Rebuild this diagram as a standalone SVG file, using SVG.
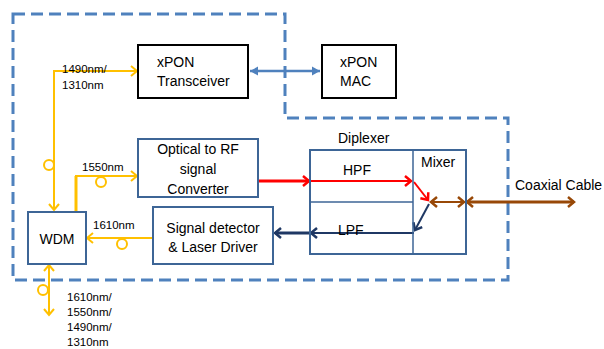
<svg xmlns="http://www.w3.org/2000/svg" width="604" height="349" viewBox="0 0 604 349">
<style>
text{font-family:"Liberation Sans",Arial,sans-serif;fill:#000}
.t{font-size:14px}
.s{font-size:11.5px}
.bx{fill:#fff;stroke:#3d6596;stroke-width:2}
.bk{fill:#fff;stroke:#000;stroke-width:2}
.y{fill:none;stroke:#ffc000;stroke-width:2}
.yc{fill:none;stroke:#ffc000;stroke-width:2}
</style>
<defs>
<marker id="ay" markerUnits="userSpaceOnUse" markerWidth="12" markerHeight="12" refX="9" refY="6" orient="auto-start-reverse"><path d="M3,1 L9,6 L3,11" fill="none" stroke="#ffc000" stroke-width="2"/></marker>
<marker id="ar" markerUnits="userSpaceOnUse" markerWidth="12" markerHeight="12" refX="9" refY="6" orient="auto"><path d="M3,1 L9,6 L3,11" fill="none" stroke="#ff0000" stroke-width="2.5"/></marker>
<marker id="an" markerUnits="userSpaceOnUse" markerWidth="12" markerHeight="12" refX="9" refY="6" orient="auto"><path d="M3,1 L9,6 L3,11" fill="none" stroke="#1f3864" stroke-width="2.5"/></marker>
<marker id="ab" markerUnits="userSpaceOnUse" markerWidth="12" markerHeight="12" refX="9" refY="6" orient="auto-start-reverse"><path d="M3,1 L9,6 L3,11" fill="none" stroke="#984807" stroke-width="2.5"/></marker>
<marker id="al" markerUnits="userSpaceOnUse" markerWidth="12" markerHeight="12" refX="10" refY="6" orient="auto-start-reverse"><path d="M2,1.5 L10,6 L2,10.5 Z" fill="#4f81bd"/></marker>
</defs>

<g id="boundary">
<path d="M13,14 H285 V118 H508 V280 H13 Z" fill="none" stroke="#4f81bd" stroke-width="3" stroke-dasharray="12,6"/>
</g>

<g id="connectors">
<line x1="250" y1="71" x2="320" y2="71" stroke="#4f81bd" stroke-width="2.5" marker-start="url(#al)" marker-end="url(#al)"/>
<path class="y" d="M137,71 H54 V210" marker-start="url(#ay)" marker-end="url(#ay)"/>
<circle class="yc" cx="49" cy="165" r="5"/>
<path d="M76,212 V176" fill="none" stroke="#ffc000" stroke-width="3"/>
<path class="y" d="M75,176 H137" marker-end="url(#ay)"/>
<circle class="yc" cx="101" cy="182" r="5"/>
<path class="y" d="M153,238 H87" marker-end="url(#ay)"/>
<circle class="yc" cx="122" cy="244" r="5"/>
<path class="y" d="M49,265 V315" marker-start="url(#ay)" marker-end="url(#ay)"/>
<circle class="yc" cx="43" cy="290" r="5"/>
<path d="M259,181 H309" fill="none" stroke="#ff0000" stroke-width="3" marker-end="url(#ar)"/>
<path d="M309,181 H411" fill="none" stroke="#ff0000" stroke-width="2" marker-end="url(#ar)"/>
<path d="M414,182 L428,200" fill="none" stroke="#ff0000" stroke-width="2" marker-end="url(#ar)"/>
<path d="M429,204 L415,230" fill="none" stroke="#1f3864" stroke-width="2" marker-end="url(#an)"/>
<path d="M414,233 H311" fill="none" stroke="#1f3864" stroke-width="2" marker-end="url(#an)"/>
<path d="M311,233 H275" fill="none" stroke="#1f3864" stroke-width="3" marker-end="url(#an)"/>
<line x1="431" y1="202" x2="464" y2="202" stroke="#984807" stroke-width="2" marker-start="url(#ab)" marker-end="url(#ab)"/>
<line x1="467" y1="202" x2="574" y2="202" stroke="#984807" stroke-width="3" marker-start="url(#ab)" marker-end="url(#ab)"/>
</g>

<g id="xpon-transceiver">
<rect class="bk" x="138" y="45" width="110" height="53"/>
<text class="t" x="157" y="67">xPON</text>
<text class="t" x="157" y="86">Transceiver</text>
</g>
<g id="xpon-mac">
<rect class="bk" x="322" y="45" width="74" height="53"/>
<text class="t" x="340" y="67">xPON</text>
<text class="t" x="340" y="86">MAC</text>
</g>
<g id="optical-rf">
<rect class="bx" x="138" y="139" width="120" height="58"/>
<text class="t" x="198" y="154" text-anchor="middle">Optical to RF</text>
<text class="t" x="198" y="174" text-anchor="middle">signal</text>
<text class="t" x="198" y="194" text-anchor="middle">Converter</text>
</g>
<g id="signal-detector">
<rect class="bx" x="153" y="207" width="120" height="57"/>
<text class="t" x="213" y="233" text-anchor="middle">Signal detector</text>
<text class="t" x="213" y="252" text-anchor="middle">&amp; Laser Driver</text>
</g>
<g id="wdm">
<rect class="bx" x="28" y="212" width="58" height="52"/>
<text class="t" x="57" y="244" text-anchor="middle">WDM</text>
</g>
<g id="diplexer">
<rect x="310" y="150" width="156" height="104" fill="none" stroke="#3d6596" stroke-width="2"/>
<line x1="413" y1="150" x2="413" y2="254" stroke="#3d6596" stroke-width="1.5"/>
<line x1="310" y1="202" x2="413" y2="202" stroke="#3d6596" stroke-width="1.5"/>
<text class="t" x="338" y="143">Diplexer</text>
<text class="t" x="343" y="175">HPF</text>
<text class="t" x="338" y="235">LPF</text>
<text class="t" x="421" y="167">Mixer</text>
</g>
<g id="labels">
<text class="s" x="62" y="73">1490nm/</text>
<text class="s" x="62" y="89">1310nm</text>
<text class="s" x="82" y="171">1550nm</text>
<text class="s" x="93" y="229">1610nm</text>
<text class="s" x="67" y="301">1610nm/</text>
<text class="s" x="67" y="316">1550nm/</text>
<text class="s" x="67" y="331">1490nm/</text>
<text class="s" x="67" y="346">1310nm</text>
<text class="t" x="515" y="190">Coaxial Cable</text>
</g>
</svg>
